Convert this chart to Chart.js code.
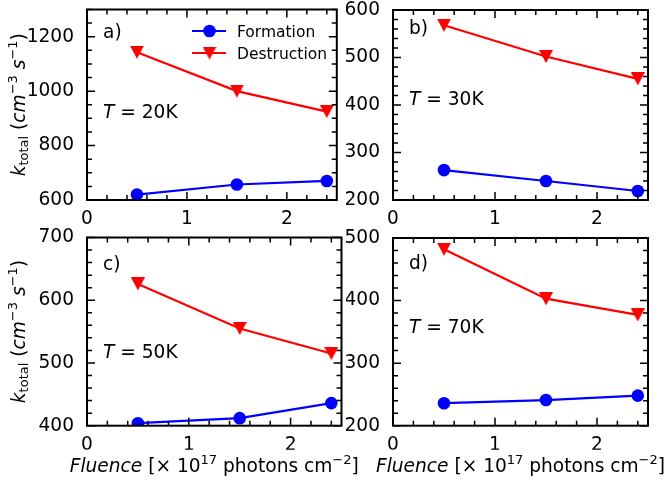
<!DOCTYPE html>
<html>
<head>
<meta charset="utf-8">
<script src="https://cdn.jsdelivr.net/npm/chart.js@4.4.1/dist/chart.umd.min.js"></script>
<style>
  html, body { margin: 0; padding: 0; background: #fff; }
  #wrap { position: relative; width: 668px; height: 481px; overflow: hidden; }
  .panel { position: absolute; }
</style>
</head>
<body>
<div id="wrap">
  <div class="panel" id="pa"><canvas id="ca"></canvas></div>
  <div class="panel" id="pb"><canvas id="cb"></canvas></div>
  <div class="panel" id="pc"><canvas id="cc"></canvas></div>
  <div class="panel" id="pd"><canvas id="cd"></canvas></div>
</div>
<script>
// Data (fluence in 1e17 photons cm^-2, k_total in cm^-3 s^-1)
const FLUENCE = [0.5, 1.5, 2.4];

const FORM_20K = [620, 657, 670];
const DEST_20K = [1143, 1000, 925];
const FORM_30K = [263, 240, 219];
const DEST_30K = [568, 502, 455];
const FORM_50K = [404, 412, 436];
const DEST_50K = [626, 555, 515];
const FORM_70K = [236, 241, 248];
const DEST_70K = [482, 403, 377];

const X_TICKS = [0, 1, 2];
const Y_TICKS_A = [600, 800, 1000, 1200];
const Y_TICKS_B = [200, 300, 400, 500, 600];
const Y_TICKS_C = [400, 500, 600, 700];
const Y_TICKS_D = [200, 300, 400, 500];

const SERIES_NAMES = ['Formation', 'Destruction'];
const FONT = "'DejaVu Sans', sans-serif";
const FS = 18.6;   // main text size
const FS_SMALL = 13;
const BLUE = '#0000ff';
const RED = '#ff0000';
const XH = 24; // height reserved for x tick labels

// layout: box = container [left, top, w, h], area = plot area [l, t, r, b] in page px
const PANELS = [
  { el: 'pa', cv: 'ca', box: [0, -12, 346, 240], area: [87, 9.5, 341.5, 200],
    ymin: 600, ymax: 1300, yticks: Y_TICKS_A, yminor: 50, form: FORM_20K, dest: DEST_20K,
    letter: 'a)', temp: '20K', lblY: 37.5, tY: 118, ylabel: true, xlabel: false, legend: true },
  { el: 'pb', cv: 'cb', box: [346, -12, 322, 240], area: [393, 10, 648, 200],
    ymin: 200, ymax: 600, yticks: Y_TICKS_B, yminor: 20, form: FORM_30K, dest: DEST_30K,
    letter: 'b)', temp: '30K', lblY: 33.5, tY: 104.5, ylabel: false, xlabel: false },
  { el: 'pc', cv: 'cc', box: [0, 216, 372, 265], area: [87, 237.5, 341.5, 425.7],
    ymin: 400, ymax: 700, yticks: Y_TICKS_C, yminor: 20, form: FORM_50K, dest: DEST_50K,
    letter: 'c)', temp: '50K', lblY: 270, tY: 357.5, ylabel: true, xlabel: true },
  { el: 'pd', cv: 'cd', box: [346, 216, 322, 265], area: [393, 238, 648, 425.7],
    ymin: 200, ymax: 500, yticks: Y_TICKS_D, yminor: 20, form: FORM_70K, dest: DEST_70K,
    letter: 'd)', temp: '70K', lblY: 268.5, tY: 332.5, ylabel: false, xlabel: true },
];

// downward triangle marker, centred like matplotlib's 'v'
function makeTri(color, w, h) {
  const c = document.createElement('canvas');
  c.width = w; c.height = h;
  const g = c.getContext('2d');
  g.fillStyle = color;
  g.beginPath();
  g.moveTo(0, 0); g.lineTo(w, 0); g.lineTo(w / 2, h); g.closePath();
  g.fill();
  return c;
}
const TRI = makeTri(RED, 14, 13);

// ── rich text (italic / sub / sup runs) ───────────────────
function runFont(p) {
  const size = (p.s === 'sub' || p.s === 'sup') ? FS_SMALL : FS;
  return (p.i ? 'italic ' : '') + size + 'px ' + FONT;
}
function richWidth(ctx, parts) {
  return parts.reduce((w, p) => { ctx.font = runFont(p); return w + ctx.measureText(p.t).width; }, 0);
}
function drawRich(ctx, parts, x, y) {
  parts.forEach(p => {
    ctx.font = runFont(p);
    const dy = p.s === 'sup' ? -7.5 : p.s === 'sub' ? 3.5 : 0;
    ctx.fillText(p.t, x, y + dy);
    x += ctx.measureText(p.t).width;
  });
}
const YTITLE = [
  { t: 'k', i: true }, { t: 'total', s: 'sub' }, { t: ' (' },
  { t: 'cm', i: true }, { t: '\u22123', s: 'sup' }, { t: ' ' },
  { t: 's', i: true }, { t: '\u22121', s: 'sup' }, { t: ')' },
];
const XTITLE = [
  { t: 'Fluence', i: true }, { t: ' [\u00d7 10' }, { t: '17', s: 'sup' },
  { t: ' photons cm' }, { t: '\u22122', s: 'sup' }, { t: ']' },
];

// ── frame, inward ticks, annotations ──────────────────────
const framePlugin = {
  id: 'frame',
  afterDraw(chart, args, P) {
    const { ctx, chartArea: a, scales: { x, y } } = chart;
    const ox = P.box[0], oy = P.box[1];
    ctx.save();
    ctx.strokeStyle = '#000';
    ctx.fillStyle = '#000';

    // ticks on all four sides
    ctx.lineWidth = 1.5;
    const xTick = (v, len) => {
      const px = x.getPixelForValue(v);
      ctx.beginPath();
      ctx.moveTo(px, a.bottom); ctx.lineTo(px, a.bottom - len);
      ctx.moveTo(px, a.top); ctx.lineTo(px, a.top + len);
      ctx.stroke();
    };
    const yTick = (v, len) => {
      const py = y.getPixelForValue(v);
      ctx.beginPath();
      ctx.moveTo(a.left, py); ctx.lineTo(a.left + len, py);
      ctx.moveTo(a.right, py); ctx.lineTo(a.right - len, py);
      ctx.stroke();
    };
    for (let i = 0; i <= 12; i++) {
      const v = +(i * 0.2).toFixed(1);
      if (X_TICKS.includes(v)) xTick(v, 8); else xTick(v, 5);
    }
    for (let v = P.ymin; v <= P.ymax; v += P.yminor) {
      if (P.yticks.includes(v)) yTick(v, 8); else yTick(v, 5);
    }

    ctx.lineWidth = 2;
    ctx.strokeRect(a.left, a.top, a.right - a.left, a.bottom - a.top);

    // panel letter and temperature
    ctx.textBaseline = 'alphabetic';
    ctx.textAlign = 'left';
    ctx.font = FS + 'px ' + FONT;
    ctx.fillText(P.letter, a.left + 16, P.lblY - oy);
    drawRich(ctx, [{ t: 'T', i: true }, { t: ' = ' + P.temp }], a.left + 16, P.tY - oy);

    if (P.legend) {
      const rows = [[BLUE, 'circle', 31], [RED, 'tri', 53]];
      rows.forEach(([col, mk, py], i) => {
        const yy = py - oy;
        ctx.strokeStyle = col; ctx.fillStyle = col; ctx.lineWidth = 2.2;
        ctx.beginPath(); ctx.moveTo(192 - ox, yy); ctx.lineTo(226 - ox, yy); ctx.stroke();
        if (mk === 'circle') {
          ctx.beginPath(); ctx.arc(209.5 - ox, yy, 6.3, 0, Math.PI * 2); ctx.fill();
        } else {
          ctx.drawImage(TRI, 209.5 - ox - TRI.width / 2, yy - TRI.height / 2);
        }
        ctx.fillStyle = '#000';
        ctx.font = '15.5px ' + FONT;
        ctx.fillText(SERIES_NAMES[i], 237 - ox, py + 5.5 - oy);
      });
      ctx.fillStyle = '#000';
    }

    if (P.ylabel) {
      const w = richWidth(ctx, YTITLE);
      ctx.save();
      ctx.translate(24.5 - ox, (a.top + a.bottom) / 2);
      ctx.rotate(-Math.PI / 2);
      drawRich(ctx, YTITLE, -w / 2, 0);
      ctx.restore();
    }
    if (P.xlabel) {
      const w = richWidth(ctx, XTITLE);
      drawRich(ctx, XTITLE, (a.left + a.right) / 2 - w / 2, a.bottom + 46);
    }
    ctx.restore();
  }
};

function build(P) {
  const div = document.getElementById(P.el);
  const [bl, bt, bw, bh] = P.box;
  Object.assign(div.style, { left: bl + 'px', top: bt + 'px', width: bw + 'px', height: bh + 'px' });
  // wanted plot area, relative to the canvas
  const want = { left: P.area[0] - bl, top: P.area[1] - bt, right: P.area[2] - bl, bottom: P.area[3] - bt };
  const yw = want.left;

  const tickFont = { family: FONT, size: FS };
  new Chart(document.getElementById(P.cv), {
    type: 'line',
    data: {
      datasets: [
        {
          label: SERIES_NAMES[0],
          data: FLUENCE.map((x, i) => ({ x, y: P.form[i] })),
          borderColor: BLUE, backgroundColor: BLUE, borderWidth: 2.2,
          pointStyle: 'circle', pointRadius: 6.3, pointBorderWidth: 0,
        },
        {
          label: SERIES_NAMES[1],
          data: FLUENCE.map((x, i) => ({ x, y: P.dest[i] })),
          borderColor: RED, backgroundColor: RED, borderWidth: 2.2,
          pointStyle: TRI, pointRadius: 7,
        },
      ]
    },
    options: {
      responsive: true,
      maintainAspectRatio: false,
      animation: false,
      events: [],
      layout: { padding: { left: 0, top: want.top, right: bw - want.right, bottom: bh - want.bottom - XH } },
      scales: {
        x: {
          type: 'linear', min: 0, max: 2.5,
          grid: { display: false }, border: { display: false },
          ticks: { font: tickFont, color: '#000', padding: 0, maxRotation: 0, callback: v => String(v) },
          afterBuildTicks: s => { s.ticks = X_TICKS.map(v => ({ value: v })); },
          afterFit: s => { s.height = XH; },
        },
        y: {
          min: P.ymin, max: P.ymax,
          grid: { display: false }, border: { display: false },
          ticks: { font: tickFont, color: '#000', padding: 5, callback: v => String(v) },
          afterBuildTicks: s => { s.ticks = P.yticks.map(v => ({ value: v })); },
          afterFit: s => { s.width = yw; },
        }
      },
      plugins: { legend: { display: false }, tooltip: { enabled: false }, frame: P }
    },
    plugins: [framePlugin]
  });
}

PANELS.forEach(build);
</script>
</body>
</html>
